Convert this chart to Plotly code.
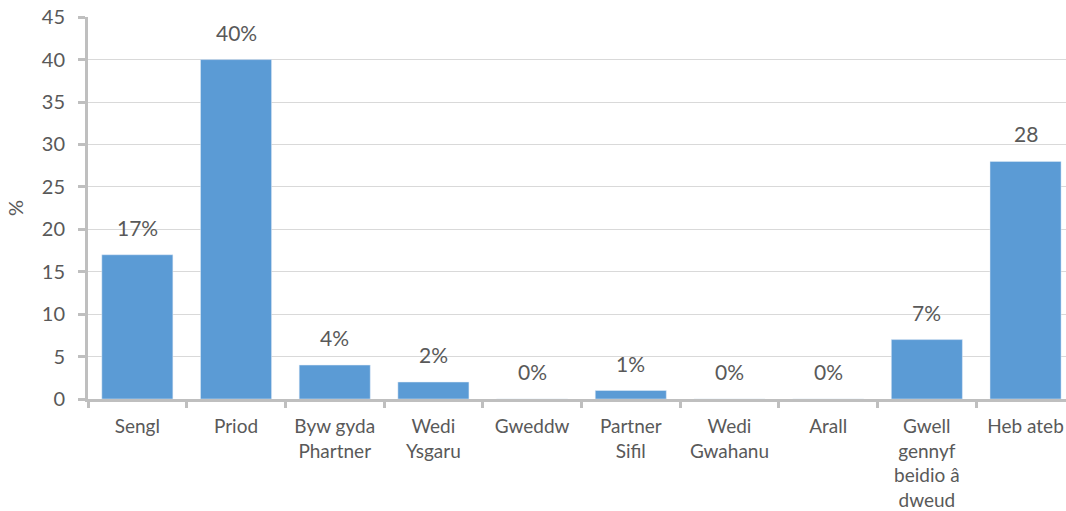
import plotly.graph_objects as go

categories = ["Sengl", "Priod", "Byw gyda<br>Phartner", "Wedi<br>Ysgaru", "Gweddw",
              "Partner<br>Sifil", "Wedi<br>Gwahanu", "Arall",
              "Gwell<br>gennyf<br>beidio â<br>dweud", "Heb ateb"]
values = [17, 40, 4, 2, 0, 1, 0, 0, 7, 28]
labels = ["17%", "40%", "4%", "2%", "0%", "1%", "0%", "0%", "7%", "28"]
y_ticks = [0, 5, 10, 15, 20, 25, 30, 35, 40, 45]

FONT = "Lato"
TXT = "#595959"
AX = "#BFBFBF"

fig = go.Figure()
fig.add_trace(go.Bar(
    x=categories, y=values, marker_color="#5B9BD5", width=0.72,
    hoverinfo="skip",
))

for c, v, t in zip(categories, values, labels):
    fig.add_annotation(x=c, y=v, text=t, showarrow=False, yanchor="bottom",
                       yshift=13, font=dict(family=FONT, size=21, color=TXT))

fig.update_layout(
    width=1066, height=511,
    margin=dict(l=88, r=0, t=17, b=112),
    plot_bgcolor="white", paper_bgcolor="white",
    showlegend=False,
    font=dict(family=FONT, size=18, color=TXT),
)
fig.update_xaxes(
    range=[-0.5, 9.41], automargin=False,
    showline=True, linecolor=AX, linewidth=3,
    ticks="outside", tickson="boundaries", ticklen=6, tickwidth=3, tickcolor=AX,
    tickfont=dict(family=FONT, size=19, color=TXT),
    ticklabelstandoff=8,
    showgrid=False, tickangle=0,
)
fig.update_yaxes(
    range=[0, 45.02], tickvals=y_ticks, automargin=False,
    showline=True, linecolor=AX, linewidth=3,
    ticks="outside", ticklen=7, tickwidth=3, tickcolor=AX,
    showgrid=True, gridcolor="#D9D9D9", gridwidth=1,
    zeroline=False,
    tickfont=dict(family=FONT, size=20, color=TXT),
    ticklabelstandoff=9, ticklabeloverflow="allow",
    title=dict(text="%", font=dict(family=FONT, size=20, color=TXT), standoff=13),
)

fig.write_html(
    "out.html",
    config={"displayModeBar": False},
    post_script="document.body.style.margin='0';document.body.style.overflow='hidden';",
)
